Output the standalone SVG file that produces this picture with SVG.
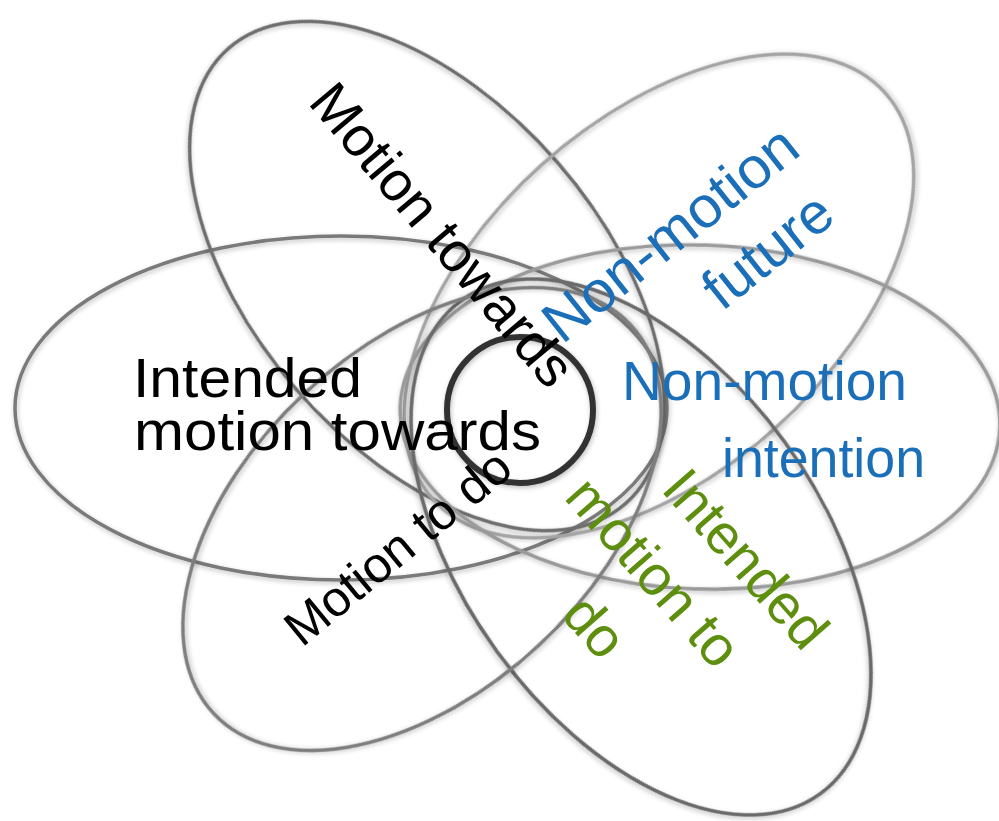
<svg xmlns="http://www.w3.org/2000/svg" width="999" height="821" viewBox="0 0 999 821">
<defs>
<filter id="soft" x="-10%" y="-10%" width="120%" height="120%">
<feGaussianBlur in="SourceAlpha" stdDeviation="2.5" result="b"/>
<feOffset dx="1" dy="2" result="o"/>
<feComponentTransfer in="o" result="s"><feFuncA type="linear" slope="0.25"/></feComponentTransfer>
<feMerge><feMergeNode in="s"/><feMergeNode in="SourceGraphic"/></feMerge>
</filter>
</defs>
<style>
.petal{fill:none;stroke-width:3.5;filter:url(#soft)}
.t{font-family:"Liberation Sans",Arial,sans-serif;font-size:56px}
.blk{fill:#000}
.blu{fill:#1A6FB8}
.grn{fill:#5E8E0E}
</style>
<rect width="999" height="821" fill="#fff"/>
<g id="petals">
<g id="petal-intended-motion-towards"><ellipse class="petal" cx="341" cy="408" rx="326" ry="172" stroke="#7a7a7a"/></g>
<g id="petal-motion-towards"><ellipse class="petal" cx="427" cy="276" rx="302" ry="173" transform="rotate(49 427 276)" stroke="#6e6e6e"/></g>
<g id="petal-non-motion-future"><ellipse class="petal" cx="659" cy="296" rx="304" ry="176" transform="rotate(-42 659 296)" stroke="#a4a4a4"/></g>
<g id="petal-non-motion-intention"><ellipse class="petal" cx="700" cy="417" rx="300" ry="172" transform="rotate(2 700 417)" stroke="#9a9a9a"/></g>
<g id="petal-intended-motion-to-do"><ellipse class="petal" cx="641" cy="547" rx="305" ry="178" transform="rotate(54 641 547)" stroke="#6a6a6a"/></g>
<g id="petal-motion-to-do"><ellipse class="petal" cx="422" cy="519" rx="285" ry="172" transform="rotate(-43 422 519)" stroke="#7e7e7e"/></g>
</g>
<g id="center"><circle cx="520" cy="410" r="73" fill="none" stroke="#333" stroke-width="6" filter="url(#soft)"/></g>
<g id="labels">
<g id="label-intended-motion-towards" class="t blk">
<text x="133" y="397" textLength="229" lengthAdjust="spacingAndGlyphs">Intended</text>
<text x="134" y="450" textLength="407" lengthAdjust="spacingAndGlyphs">motion towards</text>
</g>
<g id="label-motion-towards" class="t blk">
<text x="307" y="103" transform="rotate(50 307 103)" textLength="376" lengthAdjust="spacingAndGlyphs">Motion towards</text>
</g>
<g id="label-motion-to-do" class="t blk">
<text x="302" y="648" transform="rotate(-39.4 302 648)" style="font-size:50px" textLength="276" lengthAdjust="spacingAndGlyphs">Motion to do</text>
</g>
<g id="label-non-motion-future" class="t blu">
<text x="562" y="345" transform="rotate(-38.5 562 345)" style="font-size:58px" textLength="308" lengthAdjust="spacingAndGlyphs">Non-motion</text>
<text x="722" y="312" transform="rotate(-38.5 722 312)" style="font-size:58px" textLength="148" lengthAdjust="spacingAndGlyphs">future</text>
</g>
<g id="label-non-motion-intention" class="t blu">
<text x="622" y="400" textLength="285" lengthAdjust="spacingAndGlyphs">Non-motion</text>
<text x="722" y="477" textLength="203" lengthAdjust="spacingAndGlyphs">intention</text>
</g>
<g id="label-intended-motion-to-do" class="t grn">
<text x="660" y="490" transform="rotate(48.7 660 490)" textLength="217" lengthAdjust="spacingAndGlyphs">Intended</text>
<text x="563" y="498" transform="rotate(48.7 563 498)" textLength="231" lengthAdjust="spacingAndGlyphs">motion to</text>
<text x="560" y="616" transform="rotate(48.7 560 616)" textLength="62" lengthAdjust="spacingAndGlyphs">do</text>
</g>
</g>
</svg>
